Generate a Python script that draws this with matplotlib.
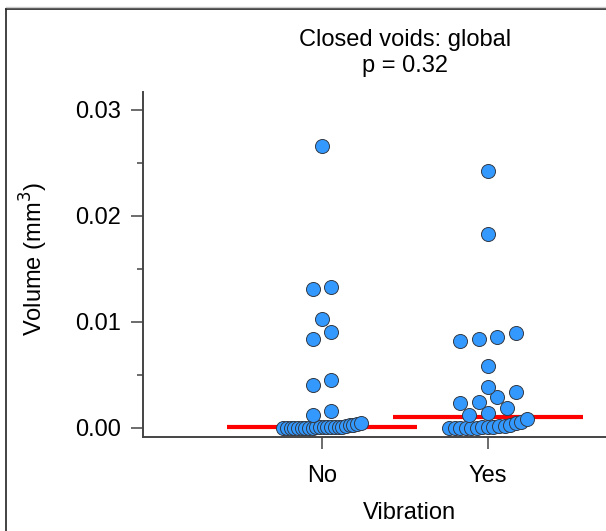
import matplotlib
matplotlib.use("Agg")
import matplotlib.pyplot as plt
import numpy as np
from matplotlib.lines import Line2D
from matplotlib.ticker import MultipleLocator

plt.rcParams["font.family"] = ["Liberation Sans", "DejaVu Sans"]

groups = ["No", "Yes"]

# void volumes (mm^3)
vol_no = [
    0.0, 0.0, 0.0, 0.0, 0.00001, 0.00002, 0.00002, 0.00003, 0.00004, 0.00005,
    0.00006, 0.00007, 0.00008, 0.00009, 0.0001, 0.00012, 0.00014, 0.00018,
    0.00024, 0.0003, 0.00038, 0.00045,
    0.0012, 0.00157, 0.00403, 0.0045, 0.00842, 0.00906, 0.01028,
    0.01308, 0.01333, 0.02663,
]
vol_yes = [
    0.0, 0.0, 0.0, 0.00001, 0.00002, 0.00003, 0.00005, 0.00007, 0.0001,
    0.00015, 0.0002, 0.0003, 0.00045, 0.0006, 0.00082,
    0.00123, 0.00145, 0.00192, 0.00239, 0.00242, 0.00296, 0.00336,
    0.00384, 0.0058, 0.00821, 0.00837, 0.00862, 0.00899, 0.01827, 0.02425,
]
title = "Closed voids: global\np = 0.32"

BIN = 0.00115     # row height for the scatter layout
STEP = 0.1125     # spacing between neighbours in one row (x units)
MAX_SPAN = 0.465  # widest row allowed
FS = 17


def swarm_x(center, values):
    """Prism-like column scatter: same bin -> same row, sorted, centred."""
    values = np.sort(np.asarray(values))
    bins = np.floor(values / BIN).astype(int)
    xs = np.zeros_like(values)
    for b in np.unique(bins):
        idx = np.where(bins == b)[0]
        k = len(idx)
        step = STEP if k < 2 else min(STEP, MAX_SPAN / (k - 1))
        xs[idx] = center + (np.arange(k) - (k - 1) / 2) * step
    return xs, values


fig = plt.figure(figsize=(6.06, 5.31), dpi=100)
ax = fig.add_axes([0.236, 0.177, 0.764, 0.65])

for i, vals in enumerate([vol_no, vol_yes]):
    med = np.median(vals)
    ax.plot([i - 0.57, i + 0.57], [med, med], color="#ff0000", lw=3, zorder=2,
            solid_capstyle="butt")
    xs, ys = swarm_x(i, vals)
    ax.scatter(xs, ys, s=102, color="#3399ff", edgecolor="#333a45",
               linewidth=0.7, zorder=3, clip_on=False)

ax.set_xlim(-1.078, 1.711)
ax.set_ylim(-0.00085, 0.0317)
ax.set_xticks([0, 1])
ax.set_xticklabels(groups)
ax.set_yticks([0, 0.01, 0.02, 0.03])
ax.set_yticklabels(["0.00", "0.01", "0.02", "0.03"])
ax.yaxis.set_minor_locator(MultipleLocator(0.005))

for side in ["top", "right"]:
    ax.spines[side].set_visible(False)
for side in ["left", "bottom"]:
    ax.spines[side].set_color("#444444")
    ax.spines[side].set_linewidth(1.4)

ax.tick_params(axis="y", which="major", length=8.6, width=1.1, color="#444444",
               labelsize=FS, pad=7)
ax.tick_params(axis="y", which="minor", length=4.3, width=1.1, color="#444444")
ax.tick_params(axis="x", length=8.5, width=1.1, color="#444444",
               labelsize=FS, pad=12)

ax.set_ylabel("Volume (mm$^3$)", fontsize=FS)
ax.yaxis.set_label_coords(-0.201, 0.516)
ax.set_xlabel("Vibration", fontsize=FS)
ax.xaxis.set_label_coords(0.575, -0.187)
ax.text(0.5, 1.042, title, transform=ax.get_xaxis_transform(), ha="center",
        va="bottom", fontsize=FS, linespacing=1.28)

# outer frame (top and left edges visible in the crop)
fig.add_artist(Line2D([6 / 606, 6 / 606], [0, 1 - 9 / 531], color="#222222",
                      lw=1.2, transform=fig.transFigure))
fig.add_artist(Line2D([6 / 606, 1], [1 - 9 / 531, 1 - 9 / 531],
                      color="#222222", lw=1.2, transform=fig.transFigure))
fig.add_artist(Line2D([6 / 606, 1], [1 - 6.5 / 531, 1 - 6.5 / 531],
                      color="#cccccc", lw=1.0, transform=fig.transFigure))

fig.savefig("out.png", dpi=100)
